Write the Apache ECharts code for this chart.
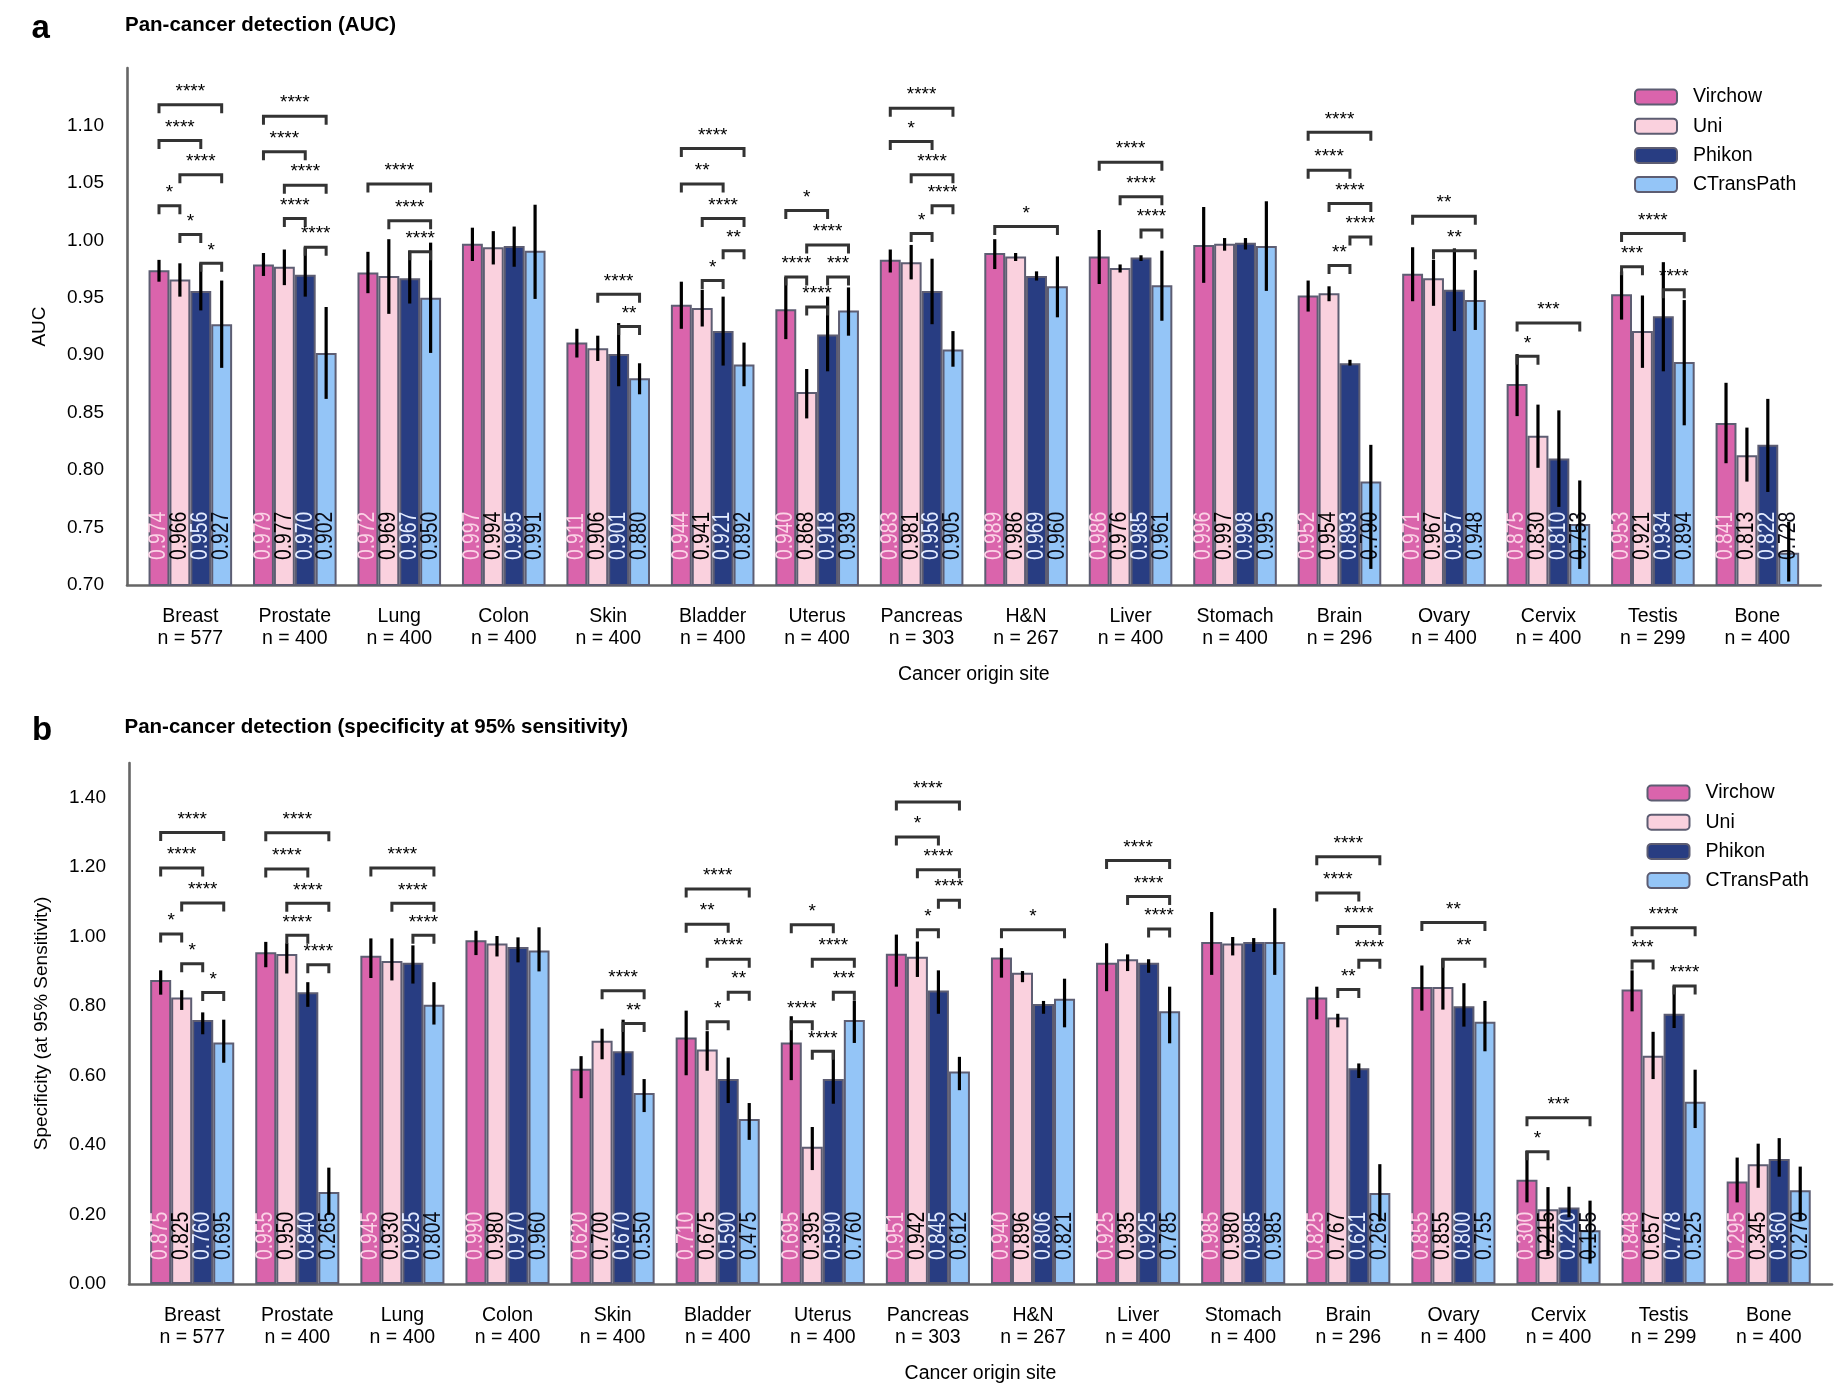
<!DOCTYPE html>
<html><head><meta charset="utf-8">
<script src="https://cdn.jsdelivr.net/npm/echarts@6/dist/echarts.min.js"></script>
<style>html,body{margin:0;padding:0;background:#fff}#c{width:1847px;height:1393px}</style>
</head><body><div id="c"></div>
<script>
// ---------------- data ----------------
const categories = ['Breast','Prostate','Lung','Colon','Skin','Bladder','Uterus','Pancreas','H&N','Liver','Stomach','Brain','Ovary','Cervix','Testis','Bone'];
const caseCounts = [577,400,400,400,400,400,400,303,267,400,400,296,400,400,299,400];
const models = ['Virchow','Uni','Phikon','CTransPath'];

// panel a: AUC
const aucVirchow    = [0.974,0.979,0.972,0.997,0.911,0.944,0.940,0.983,0.989,0.986,0.996,0.952,0.971,0.875,0.953,0.841];
const aucUni        = [0.966,0.977,0.969,0.994,0.906,0.941,0.868,0.981,0.986,0.976,0.997,0.954,0.967,0.830,0.921,0.813];
const aucPhikon     = [0.956,0.970,0.967,0.995,0.901,0.921,0.918,0.956,0.969,0.985,0.998,0.893,0.957,0.810,0.934,0.822];
const aucCTransPath = [0.927,0.902,0.950,0.991,0.880,0.892,0.939,0.905,0.960,0.961,0.995,0.790,0.948,0.753,0.894,0.728];

const aucVirchowCI    = [[0.964,0.983],[0.969,0.989],[0.954,0.990],[0.982,1.011],[0.898,0.923],[0.923,0.964],[0.914,0.968],[0.972,0.992],[0.975,1.001],[0.962,1.009],[0.963,1.029],[0.938,0.965],[0.947,0.994],[0.847,0.901],[0.931,0.973],[0.806,0.876]];
const aucUniCI        = [[0.951,0.980],[0.961,0.992],[0.936,1.001],[0.979,1.008],[0.895,0.917],[0.925,0.957],[0.845,0.888],[0.966,0.996],[0.982,0.989],[0.972,0.979],[0.991,1.002],[0.947,0.960],[0.943,0.983],[0.802,0.857],[0.889,0.952],[0.790,0.837]];
const aucPhikonCI     = [[0.939,0.980],[0.951,0.994],[0.945,0.991],[0.977,1.012],[0.873,0.928],[0.891,0.951],[0.886,0.951],[0.927,0.984],[0.965,0.973],[0.982,0.987],[0.992,1.002],[0.891,0.896],[0.921,0.993],[0.768,0.852],[0.886,0.981],[0.781,0.862]];
const aucCTransPathCI = [[0.889,0.965],[0.862,0.942],[0.902,0.998],[0.949,1.031],[0.866,0.893],[0.873,0.911],[0.917,0.959],[0.890,0.921],[0.933,0.986],[0.930,0.991],[0.956,1.034],[0.714,0.822],[0.922,0.974],[0.714,0.791],[0.839,0.948],[0.703,0.755]];

// significance brackets: [category index, from model, to model, level, stars]
const aucBrackets = [
  [0,0,3,1.118,'****'],[0,0,2,1.087,'****'],[0,1,3,1.057,'****'],[0,0,1,1.030,'*'],[0,1,2,1.005,'*'],[0,2,3,0.980,'*'],
  [1,0,3,1.108,'****'],[1,0,2,1.077,'****'],[1,1,3,1.048,'****'],[1,1,2,1.019,'****'],[1,2,3,0.994,'****'],
  [2,0,3,1.049,'****'],[2,1,3,1.017,'****'],[2,2,3,0.990,'****'],
  [4,1,3,0.953,'****'],[4,2,3,0.925,'**'],
  [5,0,3,1.080,'****'],[5,0,2,1.049,'**'],[5,1,3,1.019,'****'],[5,2,3,0.991,'**'],[5,1,2,0.965,'*'],
  [6,0,2,1.026,'*'],[6,1,3,0.996,'****'],[6,0,1,0.968,'****'],[6,2,3,0.968,'***'],[6,1,2,0.942,'****'],
  [7,0,3,1.115,'****'],[7,0,2,1.086,'*'],[7,1,3,1.057,'****'],[7,2,3,1.030,'****'],[7,1,2,1.006,'*'],
  [8,0,3,1.012,'*'],
  [9,0,3,1.068,'****'],[9,1,3,1.038,'****'],[9,2,3,1.009,'****'],
  [11,0,3,1.094,'****'],[11,0,2,1.061,'****'],[11,1,3,1.032,'****'],[11,2,3,1.003,'****'],[11,1,2,0.978,'**'],
  [12,0,3,1.021,'**'],[12,1,3,0.991,'**'],
  [13,0,3,0.928,'***'],[13,0,1,0.899,'*'],
  [14,0,3,1.006,'****'],[14,0,1,0.977,'***'],[14,2,3,0.957,'****']
];

// panel b: specificity at 95% sensitivity
const specVirchow    = [0.875,0.955,0.945,0.990,0.620,0.710,0.695,0.951,0.940,0.925,0.985,0.825,0.855,0.300,0.848,0.295];
const specUni        = [0.825,0.950,0.930,0.980,0.700,0.675,0.395,0.942,0.896,0.935,0.980,0.767,0.855,0.215,0.657,0.345];
const specPhikon     = [0.760,0.840,0.925,0.970,0.670,0.590,0.590,0.845,0.806,0.925,0.985,0.621,0.800,0.220,0.778,0.360];
const specCTransPath = [0.695,0.265,0.804,0.960,0.550,0.475,0.760,0.612,0.821,0.785,0.985,0.262,0.755,0.155,0.525,0.270];

const specVirchowCI    = [[0.833,0.903],[0.912,0.985],[0.881,0.995],[0.947,1.017],[0.535,0.656],[0.601,0.787],[0.587,0.771],[0.856,1.006],[0.882,0.967],[0.843,0.981],[0.890,1.071],[0.762,0.856],[0.787,0.917],[0.235,0.383],[0.785,0.903],[0.235,0.364]];
const specUniCI        = [[0.789,0.846],[0.894,0.981],[0.874,0.995],[0.943,1.002],[0.647,0.735],[0.614,0.728],[0.328,0.452],[0.884,0.986],[0.869,0.901],[0.901,0.949],[0.946,0.999],[0.739,0.778],[0.790,0.937],[0.081,0.279],[0.590,0.726],[0.277,0.404]];
const specPhikonCI     = [[0.719,0.782],[0.798,0.869],[0.865,0.975],[0.926,0.998],[0.601,0.761],[0.521,0.652],[0.519,0.673],[0.778,0.903],[0.778,0.815],[0.896,0.935],[0.956,0.996],[0.593,0.635],[0.741,0.866],[0.192,0.280],[0.737,0.859],[0.309,0.420]];
const specCTransPathCI = [[0.637,0.761],[0.199,0.335],[0.747,0.869],[0.900,1.027],[0.495,0.590],[0.415,0.521],[0.694,0.815],[0.558,0.654],[0.739,0.879],[0.693,0.856],[0.890,1.082],[0.180,0.345],[0.670,0.815],[0.059,0.240],[0.449,0.617],[0.184,0.338]];

const specBrackets = [
  [0,0,3,1.300,'****'],[0,0,2,1.198,'****'],[0,1,3,1.097,'****'],[0,0,1,1.008,'*'],[0,1,2,0.922,'*'],[0,2,3,0.839,'*'],
  [1,0,3,1.299,'****'],[1,0,2,1.195,'****'],[1,1,3,1.096,'****'],[1,1,2,1.004,'****'],[1,2,3,0.919,'****'],
  [2,0,3,1.198,'****'],[2,1,3,1.096,'****'],[2,2,3,1.004,'****'],
  [4,1,3,0.844,'****'],[4,2,3,0.750,'**'],
  [5,0,3,1.137,'****'],[5,0,2,1.036,'**'],[5,1,3,0.935,'****'],[5,2,3,0.840,'**'],[5,1,2,0.755,'*'],
  [6,0,2,1.034,'*'],[6,1,3,0.935,'****'],[6,2,3,0.840,'***'],[6,0,1,0.755,'****'],[6,1,2,0.670,'****'],
  [7,0,3,1.388,'****'],[7,0,2,1.287,'*'],[7,1,3,1.193,'****'],[7,2,3,1.105,'****'],[7,1,2,1.020,'*'],
  [8,0,3,1.020,'*'],
  [9,0,3,1.219,'****'],[9,1,3,1.116,'****'],[9,2,3,1.022,'****'],
  [11,0,3,1.230,'****'],[11,0,2,1.126,'****'],[11,1,3,1.029,'****'],[11,2,3,0.932,'****'],[11,1,2,0.848,'**'],
  [12,0,3,1.041,'**'],[12,1,3,0.935,'**'],
  [13,0,3,0.479,'***'],[13,0,1,0.381,'*'],
  [14,0,3,1.026,'****'],[14,0,1,0.930,'***'],[14,2,3,0.858,'****']
];

const aucTicks  = {min: 0.70, max: 1.15, interval: 0.05};
const specTicks = {min: 0.00, max: 1.50, interval: 0.20};

// ---------------- styling ----------------
const colors = ['#DA64AC', '#FAD1DE', '#283D82', '#94C5F7'];
const labelColors = ['#fbd3e6', '#000000', '#e4ecff', '#0a0a14'];
const FONT = '"Liberation Sans", Arial, Helvetica, sans-serif';
const BAR_GAP = 0.2;

function barX(api, cat, k) {
  const c = api.coord([cat, 0])[0];
  const band = api.size([1, 0])[0];
  const w = band * (1 - BAR_GAP) / 4;
  return c + (k - 1.5) * w;
}

function errorData(ciLists) {
  const out = [];
  ciLists.forEach((ci, k) => ci.forEach((r, i) => out.push([i, k, r[0], r[1]])));
  return out;
}
function labelData(valueLists) {
  const out = [];
  valueLists.forEach((vals, k) => vals.forEach((v, i) => out.push([i, k, v])));
  return out;
}

function renderErr(params, api) {
  const cat = api.value(0), k = api.value(1);
  const x = barX(api, cat, k);
  const y1 = api.coord([cat, api.value(2)])[1];
  const y2 = api.coord([cat, api.value(3)])[1];
  return {type: 'line', shape: {x1: x, y1: y1, x2: x, y2: y2}, style: {stroke: '#000', lineWidth: 3.2}};
}

function labelRenderer(axisMin, dist) {
  return function (params, api) {
    const cat = api.value(0), k = api.value(1), v = api.value(2);
    const x = barX(api, cat, k);
    const y = api.coord([cat, axisMin])[1] - dist;
    return {type: 'text', x: x, y: y, rotation: Math.PI / 2, scaleX: 0.84, scaleY: 1,
      style: {text: v.toFixed(3), fill: labelColors[k], fontSize: 23, fontFamily: FONT, align: 'left', verticalAlign: 'middle'}};
  };
}

function bracketRenderer(list) {
  return function (params, api) {
    const b = list[params.dataIndex];
    const x1 = barX(api, b[0], b[1]), x2 = barX(api, b[0], b[2]);
    const y = api.coord([b[0], b[3]])[1];
    return {type: 'group', children: [
      {type: 'polyline', shape: {points: [[x1, y + 8.5], [x1, y], [x2, y], [x2, y + 8.5]]},
       style: {stroke: '#333', lineWidth: 3, fill: null, lineJoin: 'miter'}},
      {type: 'text', style: {text: b[4], x: (x1 + x2) / 2, y: y - 13, align: 'center', verticalAlign: 'middle',
        fontSize: 19, fontFamily: FONT, fill: '#000'}}
    ]};
  };
}

function panel(p) {
  const gi = p.idx * 2;
  const grids = [
    {left: p.axisLeft, top: p.top, width: p.axisWidth, height: p.height},
    {left: p.barLeft, top: p.top, width: p.barWidth, height: p.height}
  ];
  const xAxes = [
    {type: 'value', gridIndex: gi, min: 0, max: 1, axisLine: {show: true, onZero: false, lineStyle: {color: '#666', width: 2.6}},
     axisTick: {show: false}, axisLabel: {show: false}, splitLine: {show: false}},
    {type: 'category', gridIndex: gi + 1, data: categories, axisLine: {show: false}, axisTick: {show: false},
     axisLabel: {interval: 0, margin: 21, lineHeight: 22, fontSize: 19.5, fontFamily: FONT, color: '#000',
       formatter: (v, i) => v + '\nn = ' + caseCounts[i]},
     name: 'Cancer origin site', nameLocation: 'middle', nameGap: 80,
     nameTextStyle: {fontSize: 19.5, fontFamily: FONT, color: '#000'}}
  ];
  const yAxes = [
    {type: 'value', gridIndex: gi, min: p.ticks.min, max: p.ticks.max, interval: p.ticks.interval,
     axisLine: {show: true, onZero: false, lineStyle: {color: '#666', width: 2.6}}, axisTick: {show: false},
     splitLine: {show: false},
     axisLabel: {margin: 23, fontSize: 19, fontFamily: FONT, color: '#000', showMaxLabel: false,
       formatter: v => (v > p.ticks.max - p.ticks.interval * 0.4 ? '' : v.toFixed(2))},
     name: p.yName, nameLocation: 'middle', nameGap: 78, nameRotate: 90,
     nameTextStyle: {fontSize: 19, fontFamily: FONT, color: '#000'}},
    {type: 'value', gridIndex: gi + 1, min: p.ticks.min, max: p.ticks.max, show: false}
  ];
  const series = p.values.map((vals, k) => ({
    type: 'bar', name: models[k], xAxisIndex: gi + 1, yAxisIndex: gi + 1, data: vals,
    barGap: '0%', barCategoryGap: (BAR_GAP * 100) + '%', z: 2,
    itemStyle: {color: colors[k], borderColor: '#5d5d72', borderWidth: 2}
  }));
  series.push({type: 'custom', name: 'lab' + p.idx, xAxisIndex: gi + 1, yAxisIndex: gi + 1, z: 3,
    data: labelData(p.values), encode: {x: 0, y: 2}, renderItem: labelRenderer(p.ticks.min, p.labelDist), silent: true});
  series.push({type: 'custom', name: 'err' + p.idx, xAxisIndex: gi + 1, yAxisIndex: gi + 1, z: 5,
    data: errorData(p.cis), encode: {x: 0, y: [2, 3]}, renderItem: renderErr, silent: true});
  series.push({type: 'custom', name: 'sig' + p.idx, xAxisIndex: gi + 1, yAxisIndex: gi + 1, z: 6,
    data: p.brackets.map(b => [b[0], b[3]]), encode: {x: 0, y: 1}, renderItem: bracketRenderer(p.brackets), silent: true});
  const legend = {data: models, orient: 'vertical', left: p.legendLeft, top: p.legendTop, padding: 0,
    itemWidth: 42, itemHeight: 15, itemGap: 9.2, selectedMode: false,
    textStyle: {fontSize: 19.5, lineHeight: 20, fontFamily: FONT, color: '#000', padding: [0, 0, 0, 11]}};
  return {grids, xAxes, yAxes, series, legend};
}

const pa = panel({idx: 0, top: 68, height: 517, axisLeft: 127, axisWidth: 1693.7, barLeft: 138.1, barWidth: 1671.5,
  ticks: aucTicks, yName: 'AUC', labelDist: 25, legendLeft: 1634, legendTop: 87,
  values: [aucVirchow, aucUni, aucPhikon, aucCTransPath],
  cis: [aucVirchowCI, aucUniCI, aucPhikonCI, aucCTransPathCI], brackets: aucBrackets});
const pb = panel({idx: 1, top: 763, height: 521, axisLeft: 129, axisWidth: 1703, barLeft: 139.65, barWidth: 1681.6,
  ticks: specTicks, yName: 'Specificity (at 95% Sensitivity)', labelDist: 24, legendLeft: 1646.5, legendTop: 783,
  values: [specVirchow, specUni, specPhikon, specCTransPath],
  cis: [specVirchowCI, specUniCI, specPhikonCI, specCTransPathCI], brackets: specBrackets});

const option = {
  animation: false,
  backgroundColor: '#fff',
  title: [
    {text: 'a', left: 31.5, top: 12, padding: 0, textStyle: {fontSize: 33, fontWeight: 'bold', fontFamily: FONT, color: '#000'}},
    {text: 'Pan-cancer detection (AUC)', left: 125, top: 15, padding: 0, textStyle: {fontSize: 20.5, fontWeight: 'bold', fontFamily: FONT, color: '#000'}},
    {text: 'b', left: 32, top: 714, padding: 0, textStyle: {fontSize: 33, fontWeight: 'bold', fontFamily: FONT, color: '#000'}},
    {text: 'Pan-cancer detection (specificity at 95% sensitivity)', left: 124.5, top: 717, padding: 0, textStyle: {fontSize: 20.5, fontWeight: 'bold', fontFamily: FONT, color: '#000'}}
  ],
  legend: [pa.legend, pb.legend],
  grid: [...pa.grids, ...pb.grids],
  xAxis: [...pa.xAxes, ...pb.xAxes],
  yAxis: [...pa.yAxes, ...pb.yAxes],
  series: [...pa.series, ...pb.series]
};

const chart = echarts.init(document.getElementById('c'), null, {renderer: 'canvas'});
chart.setOption(option);
</script>
</body></html>
